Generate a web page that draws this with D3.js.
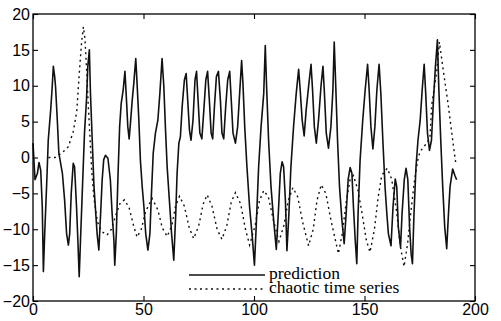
<!DOCTYPE html>
<html><head><meta charset="utf-8">
<script src="https://cdn.jsdelivr.net/npm/d3@7"></script>
<style>body{margin:0;background:#fff}svg{display:block}</style>
</head><body>
<svg id="c" width="501" height="321"></svg>
<script>
const xTicks = [0, 50, 100, 150, 200];
const yTicks = [-20, -15, -10, -5, 0, 5, 10, 15, 20];
const seriesNames = ["prediction", "chaotic time series"];

const predX = [0,0.9,2,2.7,3.5,4.2,4.7,5.3,6.2,6.9,8,8.7,9.2,9.8,10.2,11,11.7,13.3,14.3,15.2,16,16.6,17.3,18.2,18.8,19.7,20.3,20.9,21.5,22.4,23.3,24.2,24.8,25.5,26,26.8,27.6,29,29.8,30.6,31.3,32,32.8,33.9,35,35.8,36.6,37,37.7,38.4,39.2,39.9,40.8,41.6,42.3,42.9,43.5,44.1,44.9,45.6,46.5,47.1,47.9,48.6,49.4,50.2,51,52,52.9,53.6,54.4,55.4,56.5,57.4,58.4,59.2,59.9,60.7,61.7,62.7,63.7,64.6,65.2,66,66.7,67.5,68.5,69.3,70,70.8,71.5,72.4,73.3,74,74.7,75.5,76.4,77.3,78.2,79,79.8,80.6,81.3,82.1,83,83.9,84.8,85.5,86.3,87.2,88.1,89,89.8,90.5,91.6,92.6,93.5,94.4,95,95.8,96.8,98,99.1,100.2,101,102.1,103.2,104.4,105.1,105.7,106.6,107.7,108.9,110.1,111,111.9,112.7,113.4,114.2,114.9,115.8,116.7,117.9,119.1,120.2,120.9,121.8,122.7,123.6,124.7,125.8,126.5,127.3,128.2,129.2,130.3,131.2,131.8,132.7,133.7,134.8,135.7,136.3,137,137.8,138.7,139.8,140.8,141.7,142.6,143.5,144.3,145,145.8,146.5,147.1,148,149.2,150.3,151.4,152.1,152.9,153.8,154.7,155.6,156.6,157.4,158.3,159.3,160.1,160.8,162,162.9,163.9,164.6,165.3,166.3,167,168,168.8,169.6,170.4,171.1,171.7,172.4,173.3,174.2,175.2,176.1,177,177.7,178.5,179.4,180.3,181.2,182.1,183,183.6,184.5,185.4,186.3,187.2,188,188.7,189.9,190.9,191.7];
const predY = [2.0,-3.1,-2.2,-0.7,-1.8,-6.9,-15.9,-10.6,-3.6,2.4,6.6,9.9,12.7,11.3,9.9,5.2,0.6,-2.2,-5.9,-10.6,-12.2,-10.6,-5,-0.8,-1.3,-6.9,-11.5,-16.6,-11.5,-4,3.4,8,12.7,15,9,2.4,-4.1,-10.6,-12.9,-7.8,-3.1,-0.3,0.3,-0.1,-3.1,-7.8,-11.5,-15,-10.6,-3.1,4.3,7.5,9.4,12,8,4.3,2.6,4.8,8,10.3,13.8,10.3,5.2,-0.4,-4,-6.9,-10.6,-12.9,-10.6,-5,0.6,3.4,5.2,8.9,13.8,9.9,4.3,-1.3,-5.9,-10.6,-14.3,-7.8,-2.2,2,2.9,7.1,10.8,11.7,8,3.8,2.4,5.2,10.8,12,8,3.4,2.6,6.6,10.8,12,8,3.4,2.6,7.1,11.3,12,8,3.4,2.6,7.1,10.8,12,7.5,3.4,2,4.3,8.9,13.5,10.3,4.3,-1.3,-6.9,-10.6,-15,-9.6,-1.3,4.3,8.9,15.6,9.9,2.4,-4.1,-8.8,-12.8,-7.8,-2.2,-0.6,-1.3,-5.9,-13,-7.8,-1.3,4.3,8.9,12.3,9.4,5.2,3,6.6,9.9,13,9.4,4.3,2,5.2,9.9,12.7,9.4,3.4,1.3,4.3,9.4,16.1,9.9,2.4,-4.1,-8.8,-12,-7.8,-3.1,-1.4,-2.2,-6.9,-11.5,-14.8,-7.8,-0.4,5.2,9.4,13,9.4,4.3,1.2,4.3,9.4,13,8.9,2.4,-4.1,-7.8,-10.6,-12.3,-6.9,-3,-4.1,-9.7,-12.5,-7.8,-3.1,-1.5,-3.1,-9.7,-13.4,-14.8,-7.8,-1.3,2.4,5.2,9.4,13,8.9,3.4,1,2.4,8,12.7,16.4,9.9,2.4,-4.1,-9.7,-12.7,-7.8,-4.1,-1.6,-2.5,-3.1];

const chaosX = [7,10,13,16,18.2,19.8,21,22,22.8,23.5,24.3,25,25.8,26.6,27.6,29.1,31,33.5,35.5,37.5,39.5,41.4,43.5,45.5,47.1,49,51,53.9,56.5,58.5,60.7,62.8,64.5,66.3,68.5,70.7,72.7,75,77,78.8,81,83.3,85.5,87.7,89.7,91.6,94,96,98,100.5,102.5,104.4,106.5,109,111.3,113.5,115.5,117.6,119.8,122,124.7,126.8,128.5,130.4,132.5,135,138.2,140,141.8,143.5,145,147,149,150.8,152.5,154.5,156.2,157.8,160.3,162.3,164.5,166.3,167.9,169.5,171,172.5,174,175.1,177.4,179.6,180.4,182.7,183.9,185.7,187.9,190.2,191.4];
const chaosY = [0,0,0.6,1.5,3.6,6.4,12,16.1,18.2,16.6,12,7.3,2.7,-2,-5.7,-8.9,-10.3,-10.8,-10,-8,-6.3,-5.9,-7,-9.5,-11.1,-10,-7.5,-5.7,-7.3,-9.8,-11,-9.5,-6.8,-5.4,-6.8,-9.8,-11.3,-9.5,-6.5,-5.2,-6.8,-10,-11.4,-9.5,-6.2,-4.9,-6.5,-9.8,-12.2,-9.5,-6,-4.6,-5.5,-9,-11.7,-9.5,-6,-4.2,-5.5,-9,-12.3,-10,-6,-3.8,-5,-9,-13.4,-10.5,-6,-3,-2.5,-4.5,-8,-11.5,-13.2,-10,-5.5,-2.5,-1.5,-3,-7.5,-12.5,-15.2,-12,-7.5,-3.5,-0.5,0.8,1.7,2.7,7.3,12,16.1,12,7.3,1.7,-1];

const svg = d3.select("#c");
svg.append("rect").attr("width",501).attr("height",321).attr("fill","#fff");
const L = 33, R = 475, T = 14, B = 301;
const x = d3.scaleLinear().domain([0,200]).range([L,R]);
const y = d3.scaleLinear().domain([-20,20]).range([B,T]);

const pred = predX.map((v,i)=>[v,predY[i]]);
const chaos = chaosX.map((v,i)=>[v,chaosY[i]]);
const line = d3.line().x(d=>x(d[0])).y(d=>y(d[1]));

svg.append("path").attr("d",line(chaos)).attr("fill","none").attr("stroke","#111")
  .attr("stroke-width",1.4).attr("stroke-dasharray","2,3.5");
svg.append("path").attr("d",line(pred)).attr("fill","none").attr("stroke","#111")
  .attr("stroke-width",1.6).attr("stroke-linejoin","round");

// frame
svg.append("rect").attr("x",L).attr("y",T).attr("width",R-L).attr("height",B-T)
  .attr("fill","none").attr("stroke","#000").attr("stroke-width",1.3);

const tk = 5;
const axB = d3.axisBottom(x).tickValues(xTicks).tickSize(-tk).tickPadding(3);
const axL = d3.axisLeft(y).tickValues(yTicks).tickSize(-tk).tickPadding(3);
const axT = d3.axisTop(x).tickValues(xTicks).tickSize(-tk).tickFormat("");
const axR = d3.axisRight(y).tickValues(yTicks).tickSize(-tk).tickFormat("");
function style(g){
  g.select(".domain").remove();
  g.selectAll(".tick line").attr("stroke","#000").attr("stroke-width",1.1);
  g.selectAll("text").attr("font-family","'Liberation Sans',Arial,sans-serif").attr("font-size",16).attr("fill","#000");
}
svg.append("g").attr("transform",`translate(0,${B})`).call(axB).call(style);
svg.append("g").attr("transform",`translate(${L},0)`).call(axL).call(style);
svg.append("g").attr("transform",`translate(0,${T})`).call(axT).call(style);
svg.append("g").attr("transform",`translate(${R},0)`).call(axR).call(style);

// legend
const lg = svg.append("g");
const ly = [275, 289];
lg.append("line").attr("x1",189).attr("x2",265).attr("y1",ly[0]).attr("y2",ly[0]).attr("stroke","#111").attr("stroke-width",1.4);
lg.append("line").attr("x1",189).attr("x2",265).attr("y1",ly[1]).attr("y2",ly[1]).attr("stroke","#111").attr("stroke-width",1.4).attr("stroke-dasharray","2,3.5");
seriesNames.forEach((n,i)=>{
  lg.append("text").attr("x",269).attr("y",ly[i]+4).text(n)
    .attr("font-family","'Liberation Serif','Times New Roman',serif").attr("font-size",17.5).attr("fill","#000");
});
</script>
</body></html>
